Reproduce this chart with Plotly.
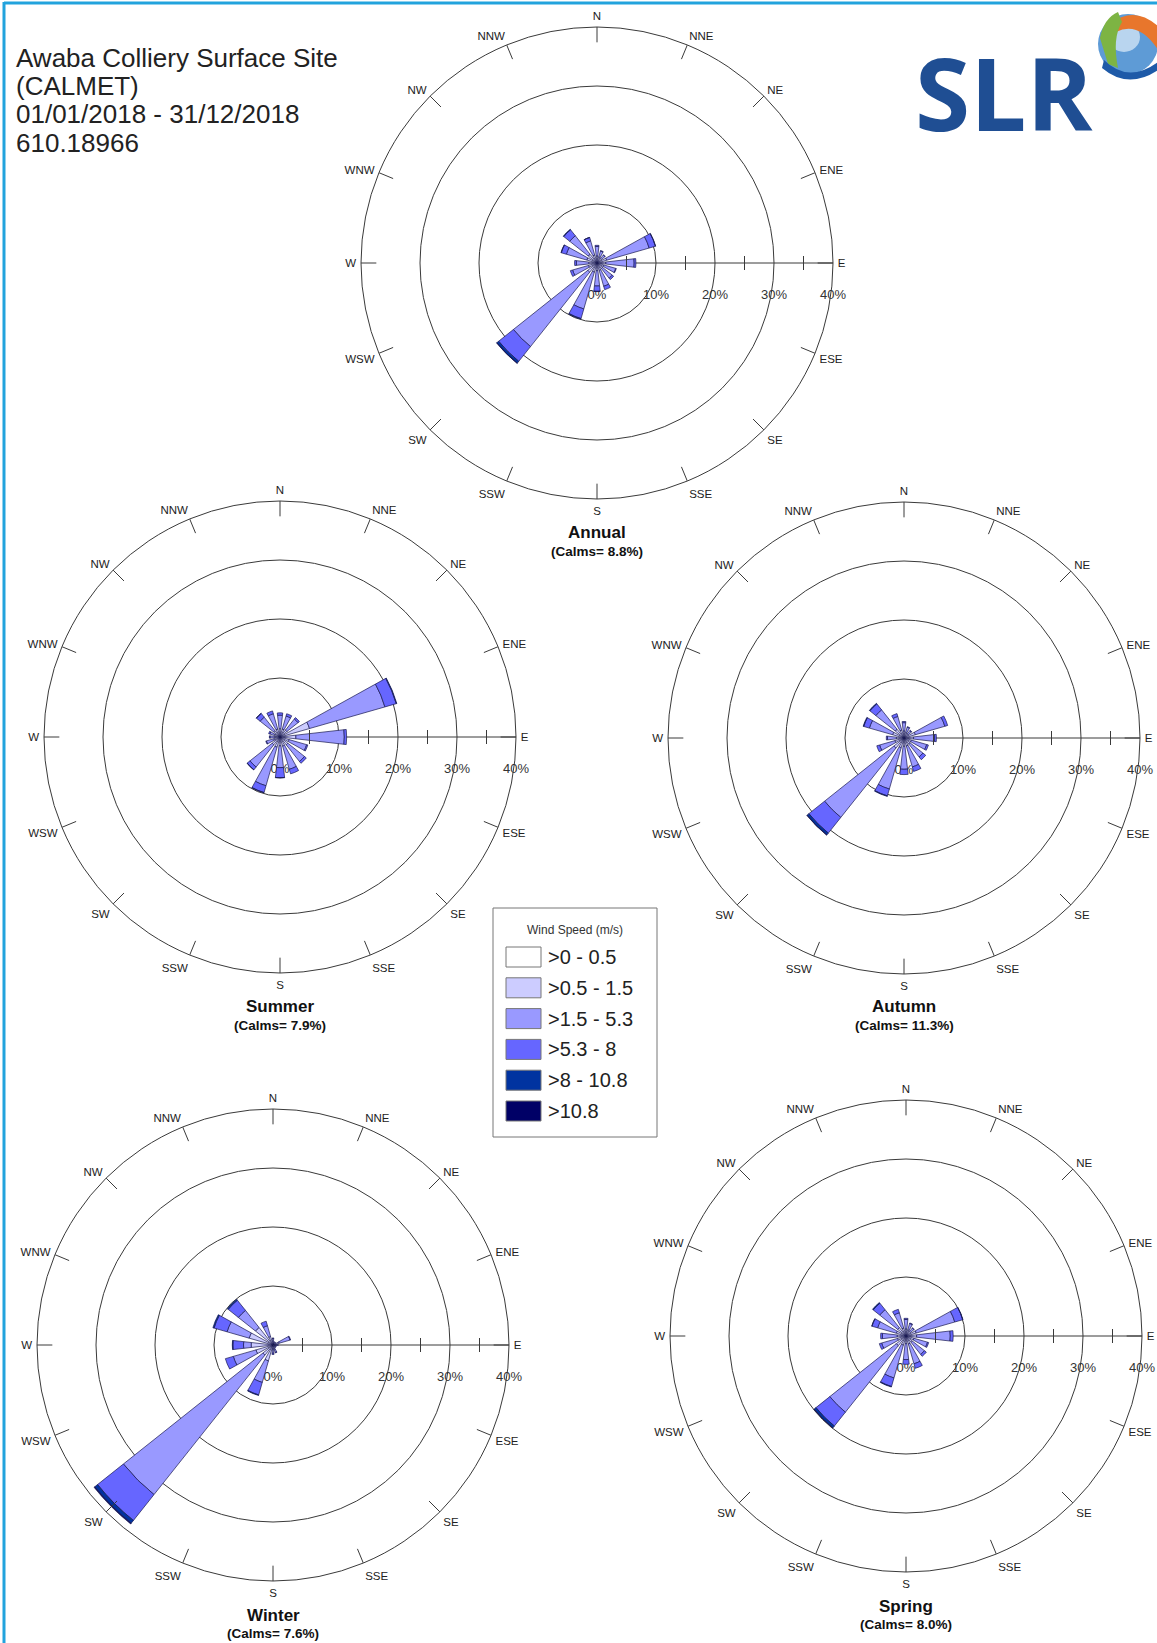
import plotly.graph_objects as go

# ---------------- data ----------------
DIRECTIONS = ["N", "NNE", "NE", "ENE", "E", "ESE", "SE", "SSE",
              "S", "SSW", "SW", "WSW", "W", "WNW", "NW", "NNW"]
DIR_DEG = [0, 22.5, 45, 67.5, 90, 112.5, 135, 157.5,
           180, 202.5, 225, 247.5, 270, 292.5, 315, 337.5]
SPEED_BINS = [">0 - 0.5", ">0.5 - 1.5", ">1.5 - 5.3", ">5.3 - 8", ">8 - 10.8", ">10.8"]
SEASONS = ["Annual", "Summer", "Autumn", "Winter", "Spring"]
CALMS = [8.8, 7.9, 11.3, 7.6, 8.0]
RADIAL_TICKS = [0, 10, 20, 30, 40]
RADIAL_LABELS = ["0%", "10%", "20%", "30%", "40%"]
RADIAL_MINOR = [5, 15, 25, 35]

# frequencies (%) per direction, one list per speed bin
ANNUAL_B0 = [0.2, 0.2, 0.2, 0.2, 0.2, 0.2, 0.2, 0.2, 0.2, 0.2, 0.2, 0.2, 0.2, 0.2, 0.2, 0.2]
ANNUAL_B1 = [1.0, 0.9, 0.8, 1.5, 1.3, 1.0, 1.0, 1.1, 1.1, 1.4, 1.8, 1.3, 1.2, 1.6, 1.7, 1.2]
ANNUAL_B2 = [1.6, 1.0, 0.7, 7.5, 4.8, 2.1, 2.1, 2.8, 2.6, 6.5, 16.1, 2.8, 2.1, 3.6, 4.0, 2.5]
ANNUAL_B3 = [0.2, 0.1, 0.1, 1.1, 0.3, 0.1, 0.3, 0.6, 0.9, 1.7, 3.2, 0.4, 0.3, 0.9, 1.3, 0.6]
ANNUAL_B4 = [0, 0, 0, 0.05, 0, 0, 0, 0, 0.05, 0.1, 0.4, 0, 0, 0.05, 0.1, 0.02]
ANNUAL_B5 = [0, 0, 0, 0, 0, 0, 0, 0, 0, 0, 0.05, 0, 0, 0, 0, 0]

SUMMER_B0 = [0.2, 0.2, 0.2, 0.2, 0.2, 0.2, 0.2, 0.2, 0.2, 0.2, 0.2, 0.2, 0.2, 0.2, 0.2, 0.2]
SUMMER_B1 = [1.2, 1.2, 1.3, 5.0, 2.5, 1.4, 1.5, 1.4, 1.3, 1.6, 1.5, 0.9, 0.7, 0.8, 1.2, 1.2]
SUMMER_B2 = [2.3, 2.3, 2.4, 13.3, 8.2, 3.1, 3.6, 4.1, 3.7, 6.8, 4.8, 1.3, 0.8, 0.8, 2.9, 2.7]
SUMMER_B3 = [0.4, 0.4, 0.3, 2.0, 0.4, 0.2, 0.4, 0.8, 1.7, 1.2, 0.6, 0.1, 0.1, 0.2, 0.8, 0.5]
SUMMER_B4 = [0, 0, 0, 0.1, 0, 0, 0, 0, 0.05, 0.05, 0.05, 0, 0, 0, 0.05, 0]
SUMMER_B5 = [0, 0, 0, 0, 0, 0, 0, 0, 0, 0, 0, 0, 0, 0, 0, 0]

AUTUMN_B0 = [0.2, 0.2, 0.2, 0.2, 0.2, 0.2, 0.2, 0.2, 0.2, 0.2, 0.2, 0.2, 0.2, 0.2, 0.2, 0.2]
AUTUMN_B1 = [1.0, 0.8, 0.7, 1.8, 1.4, 1.1, 1.1, 1.2, 1.2, 1.5, 2.0, 1.4, 1.1, 1.8, 1.7, 1.2]
AUTUMN_B2 = [1.4, 0.9, 0.7, 5.2, 3.6, 2.7, 2.8, 3.7, 3.9, 7.3, 15.0, 2.7, 1.5, 4.1, 4.2, 2.4]
AUTUMN_B3 = [0.2, 0.1, 0.1, 0.5, 0.3, 0.3, 0.6, 0.8, 0.9, 1.2, 3.4, 0.5, 0.2, 1.0, 1.3, 0.5]
AUTUMN_B4 = [0, 0, 0, 0, 0, 0, 0, 0, 0, 0.1, 0.4, 0, 0, 0.1, 0.1, 0]
AUTUMN_B5 = [0, 0, 0, 0, 0, 0, 0, 0, 0, 0, 0.05, 0, 0, 0, 0, 0]

WINTER_B0 = [0.1, 0.1, 0.1, 0.1, 0.1, 0.1, 0.1, 0.1, 0.1, 0.2, 0.2, 0.2, 0.2, 0.2, 0.2, 0.1]
WINTER_B1 = [0.5, 0.3, 0.3, 1.0, 0.4, 0.3, 0.3, 0.6, 0.6, 2.6, 2.0, 2.8, 3.5, 4.0, 3.6, 1.4]
WINTER_B2 = [0.5, 0.2, 0.2, 1.9, 0.4, 0.2, 0.2, 0.6, 0.7, 3.8, 30.2, 4.0, 1.3, 3.9, 3.7, 1.9]
WINTER_B3 = [0.1, 0, 0, 0.1, 0, 0, 0, 0.1, 0.2, 2.2, 5.6, 1.4, 1.8, 2.3, 2.2, 0.8]
WINTER_B4 = [0, 0, 0, 0, 0, 0, 0, 0, 0, 0.1, 0.6, 0, 0.1, 0.2, 0.2, 0]
WINTER_B5 = [0, 0, 0, 0, 0, 0, 0, 0, 0, 0, 0.15, 0, 0, 0, 0, 0]

SPRING_B0 = [0.2, 0.2, 0.2, 0.2, 0.2, 0.2, 0.2, 0.2, 0.2, 0.2, 0.2, 0.2, 0.2, 0.2, 0.2, 0.2]
SPRING_B1 = [1.0, 0.9, 0.8, 1.6, 1.6, 1.2, 1.2, 1.2, 1.1, 1.4, 1.9, 1.3, 1.3, 1.5, 1.6, 1.2]
SPRING_B2 = [1.6, 1.1, 0.7, 6.8, 5.7, 2.4, 2.6, 3.5, 2.7, 5.8, 14.4, 2.8, 2.5, 3.3, 3.9, 2.7]
SPRING_B3 = [0.2, 0.1, 0.1, 1.4, 0.5, 0.2, 0.4, 0.8, 0.8, 1.5, 3.0, 0.4, 0.3, 1.0, 1.4, 0.6]
SPRING_B4 = [0, 0, 0, 0.05, 0, 0, 0, 0, 0, 0.1, 0.4, 0, 0, 0.05, 0.15, 0]
SPRING_B5 = [0, 0, 0, 0, 0, 0, 0, 0, 0, 0, 0.05, 0, 0, 0, 0, 0]

SEASON_DATA = {
    "Annual": [ANNUAL_B0, ANNUAL_B1, ANNUAL_B2, ANNUAL_B3, ANNUAL_B4, ANNUAL_B5],
    "Summer": [SUMMER_B0, SUMMER_B1, SUMMER_B2, SUMMER_B3, SUMMER_B4, SUMMER_B5],
    "Autumn": [AUTUMN_B0, AUTUMN_B1, AUTUMN_B2, AUTUMN_B3, AUTUMN_B4, AUTUMN_B5],
    "Winter": [WINTER_B0, WINTER_B1, WINTER_B2, WINTER_B3, WINTER_B4, WINTER_B5],
    "Spring": [SPRING_B0, SPRING_B1, SPRING_B2, SPRING_B3, SPRING_B4, SPRING_B5],
}

TITLE_LINES = ["Awaba Colliery Surface Site", "(CALMET)", "01/01/2018 - 31/12/2018", "610.18966"]

# ---------------- style / layout ----------------
W, H = 1157, 1643
R = 236
CENTERS = {"Annual": (597, 263), "Summer": (280, 737), "Autumn": (904, 738),
           "Winter": (273, 1345), "Spring": (906, 1336)}
TITLE_Y = {"Annual": (532, 551), "Summer": (1006, 1025), "Autumn": (1006, 1025),
           "Winter": (1615, 1633), "Spring": (1606, 1624)}
BIN_COLORS = ["#FFFFFF", "#CCCCFF", "#9999FF", "#6666FF", "#0033A0", "#000066"]
OUTLINE = "#1a1a50"
AXIS = "#3a3a3a"
FONT = "Liberation Sans, Arial, sans-serif"


def px(x):
    return x / W


def py(y):
    return 1 - y / H


fig = go.Figure()
layout_polars = {}

for i, season in enumerate(SEASONS):
    key = "polar" if i == 0 else f"polar{i + 1}"
    cx, cy = CENTERS[season]
    # inner compass ticks on outer ring
    tr, tt = [], []
    for d in DIR_DEG:
        tr += [37.4, 40, None]
        tt += [d, d, None]
    fig.add_trace(go.Scatterpolar(r=tr, theta=tt, mode="lines", subplot=key,
                                  line=dict(color=AXIS, width=1), hoverinfo="skip",
                                  showlegend=False))
    fig.add_trace(go.Scatterpolar(r=RADIAL_MINOR, theta=[90] * len(RADIAL_MINOR),
                                  mode="markers", subplot=key, hoverinfo="skip",
                                  marker=dict(symbol="line-ns", size=10,
                                              line=dict(color=AXIS, width=1)),
                                  showlegend=False))
    for b, vals in enumerate(SEASON_DATA[season]):
        fig.add_trace(go.Barpolar(
            r=vals, theta=DIR_DEG, width=13, subplot=key, name=SPEED_BINS[b],
            marker=dict(color=BIN_COLORS[b], line=dict(color=OUTLINE, width=0.7)),
            showlegend=False))
    layout_polars[key] = dict(
        domain=dict(x=[px(cx - R), px(cx + R)], y=[py(cy + R), py(cy - R)]),
        bgcolor="rgba(0,0,0,0)",
        barmode="stack",
        angularaxis=dict(rotation=90, direction="clockwise", tickmode="array",
                         tickvals=DIR_DEG, ticktext=DIRECTIONS, showgrid=False,
                         showline=True, linecolor=AXIS, linewidth=1,
                         ticks="outside", ticklen=2, tickcolor="rgba(0,0,0,0)",
                         tickfont=dict(size=11.5, family=FONT, color="#222")),
        radialaxis=dict(range=[0, 40], angle=0, tickangle=0, tickmode="array",
                        tickvals=RADIAL_TICKS, ticktext=RADIAL_LABELS,
                        showgrid=True, gridcolor=AXIS, gridwidth=1,
                        showline=True, linecolor=AXIS, linewidth=1,
                        ticks="outside", ticklen=20, tickcolor="rgba(0,0,0,0)",
                        side="clockwise", layer="below traces",
                        tickfont=dict(size=13, family=FONT, color="#333")),
    )

annotations = []
for season, calm in zip(SEASONS, CALMS):
    cx, _ = CENTERS[season]
    ty, cyy = TITLE_Y[season]
    annotations.append(dict(x=px(cx), y=py(ty), xref="paper", yref="paper",
                            text=f"<b>{season}</b>", showarrow=False,
                            font=dict(size=17, family=FONT, color="#111"),
                            xanchor="center", yanchor="middle"))
    annotations.append(dict(x=px(cx), y=py(cyy), xref="paper", yref="paper",
                            text=f"<b>(Calms= {calm}%)</b>", showarrow=False,
                            font=dict(size=13.5, family=FONT, color="#111"),
                            xanchor="center", yanchor="middle"))

for line, ly in zip(TITLE_LINES, [58, 86, 114, 143]):
    annotations.append(dict(x=px(14), y=py(ly), xref="paper", yref="paper", text=line,
                            showarrow=False, xanchor="left", yanchor="middle",
                            font=dict(size=26, family=FONT, color="#222")))

# SLR logo text
annotations.append(dict(x=px(1004), y=py(92), xref="paper", yref="paper",
                        text="<b>SLR</b>", showarrow=False, xanchor="center",
                        yanchor="middle",
                        font=dict(size=100, family="Open Sans", color="#1F4E93")))

shapes = []
# frame (top & left)
shapes.append(dict(type="line", xref="paper", yref="paper", x0=px(4), y0=py(3),
                   x1=px(1160), y1=py(3), line=dict(color="#22A3DD", width=3)))
shapes.append(dict(type="line", xref="paper", yref="paper", x0=px(4), y0=py(2),
                   x1=px(4), y1=py(1650), line=dict(color="#22A3DD", width=3)))

# globe of the logo
gcx, gcy, gr = 1128, 44, 30
shapes.append(dict(type="circle", xref="paper", yref="paper",
                   x0=px(gcx - gr), x1=px(gcx + gr), y0=py(gcy + gr), y1=py(gcy - gr),
                   fillcolor="#5E9BD6", line=dict(width=0)))
shapes.append(dict(type="circle", xref="paper", yref="paper",
                   x0=px(gcx - 20), x1=px(gcx + 12), y0=py(gcy + 8), y1=py(gcy - 22),
                   fillcolor="#CFE3F5", line=dict(width=0), opacity=0.8))
shapes.append(dict(type="path", xref="paper", yref="paper",
                   path=(f"M {px(1110)} {py(24)} Q {px(1135)} {py(4)} {px(1160)} {py(28)} "
                         f"L {px(1160)} {py(53)} Q {px(1140)} {py(20)} {px(1116)} {py(32)} Z"),
                   fillcolor="#E8762C", line=dict(width=0)))
shapes.append(dict(type="path", xref="paper", yref="paper",
                   path=(f"M {px(1100)} {py(38)} Q {px(1104)} {py(18)} {px(1118)} {py(12)} "
                         f"L {px(1122)} {py(22)} Q {px(1112)} {py(38)} {px(1118)} {py(68)} "
                         f"L {px(1108)} {py(64)} Z"),
                   fillcolor="#7DB443", line=dict(width=0)))
shapes.append(dict(type="path", xref="paper", yref="paper",
                   path=(f"M {px(1104)} {py(60)} Q {px(1128)} {py(84)} {px(1158)} {py(62)} "
                         f"L {px(1158)} {py(70)} Q {px(1128)} {py(90)} {px(1102)} {py(68)} Z"),
                   fillcolor="#1E5AA8", line=dict(width=0)))

# legend box (manual)
LEG_X0, LEG_Y0, LEG_X1, LEG_Y1 = 493, 908, 657, 1137
shapes.append(dict(type="rect", xref="paper", yref="paper", x0=px(LEG_X0), x1=px(LEG_X1),
                   y0=py(LEG_Y1), y1=py(LEG_Y0), line=dict(color="#777", width=1),
                   fillcolor="white"))
annotations.append(dict(x=px(575), y=py(930), xref="paper", yref="paper",
                        text="Wind Speed (m/s)", showarrow=False, xanchor="center",
                        yanchor="middle", font=dict(size=12, family=FONT, color="#333")))
for b, lab in enumerate(SPEED_BINS):
    yc = 957 + 30.8 * b
    shapes.append(dict(type="rect", xref="paper", yref="paper", x0=px(506), x1=px(541),
                       y0=py(yc + 10), y1=py(yc - 10), fillcolor=BIN_COLORS[b],
                       line=dict(color="#777", width=1)))
    annotations.append(dict(x=px(546), y=py(yc), xref="paper", yref="paper", text=lab,
                            showarrow=False, xanchor="left", yanchor="middle",
                            font=dict(size=20, family=FONT, color="#222")))

fig.update_layout(
    width=W, height=H, margin=dict(l=0, r=0, t=0, b=0),
    paper_bgcolor="white", plot_bgcolor="white",
    font=dict(family=FONT, color="#222"),
    showlegend=False,
    annotations=annotations, shapes=shapes,
    **layout_polars,
)

fig.write_html("out.html", config={"displayModeBar": False},
               post_script="document.body.style.margin='0';")
